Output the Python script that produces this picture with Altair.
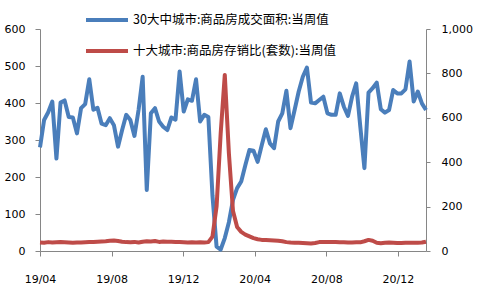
import altair as alt
import pandas as pd

# Weekly data, 95 points starting 2019-04-05
start_date = "2019-04-05"
n_weeks = 95

s_blue = "30大中城市:商品房成交面积:当周值"
s_red = "十大城市:商品房存销比(套数):当周值"

blue_vals = [
    280, 354, 375, 404, 250, 401, 407, 362, 361, 318,
    386, 397, 464, 382, 387, 344, 340, 359, 340, 282,
    327, 368, 354, 311, 381, 471, 165, 372, 386, 350,
    336, 327, 361, 355, 485, 377, 410, 406, 464, 350,
    368, 362, 150, 12, 4, 35, 78, 138, 170, 188,
    232, 273, 271, 241, 286, 329, 291, 278, 350, 372,
    433, 332, 381, 431, 471, 496, 401, 399, 408, 417,
    372, 368, 368, 426, 390, 365, 417, 453, 336, 224,
    428, 440, 455, 383, 374, 381, 435, 426, 426, 437,
    512, 404, 431, 399, 381,
]

red_vals = [
    38, 37, 40, 38, 39, 40, 39, 38, 37, 38,
    38, 39, 40, 41, 42, 43, 44, 46, 47, 45,
    42, 40, 39, 41, 38, 42, 44, 43, 45, 41,
    43, 42, 42, 41, 40, 39, 38, 39, 38, 39,
    38, 40, 65, 200, 530, 793, 440, 180, 108, 86,
    74, 66, 58, 53, 50, 49, 48, 47, 46, 44,
    40, 38, 37, 37, 36, 35, 34, 36, 40, 41,
    41, 41, 40, 39, 39, 38, 38, 39, 39, 44,
    50, 46, 37, 35, 37, 38, 37, 36, 36, 37,
    37, 37, 37, 38, 42,
]

left_ticks = [0, 100, 200, 300, 400, 500, 600]
right_ticks = [0, 200, 400, 600, 800, 1000]
x_tick_dates = [(2019, 4, 5), (2019, 8, 5), (2019, 12, 5), (2020, 4, 5), (2020, 8, 5), (2020, 12, 5)]

dates = pd.date_range(start_date, periods=n_weeks, freq="7D")
df = pd.concat([
    pd.DataFrame({"date": dates, "value": blue_vals, "series": s_blue}),
    pd.DataFrame({"date": dates, "value": red_vals, "series": s_red}),
])

BLUE = "#4A7EBB"
RED = "#BE4B48"
AXIS_GRAY = "#868686"

x_enc = alt.X(
    "date:T",
    scale=alt.Scale(
        domain=[alt.DateTime(year=2019, month=4, date=5),
                alt.DateTime(year=2021, month=1, date=22)],
        nice=False,
    ),
    axis=alt.Axis(
        values=[alt.DateTime(year=y, month=m, date=d) for (y, m, d) in x_tick_dates],
        format="%y/%m", title=None, grid=False, labelPadding=17,
        tickSize=5, domainColor=AXIS_GRAY, tickColor=AXIS_GRAY,
        labelFlush=False,
    ),
)

color_enc = alt.Color(
    "series:N",
    scale=alt.Scale(domain=[s_blue, s_red], range=[BLUE, RED]),
    legend=alt.Legend(
        title=None, orient="none", legendX=44, legendY=-32, direction="vertical",
        symbolType="stroke", symbolSize=1764, symbolStrokeWidth=4,
        labelFont="Noto Sans CJK SC", labelFontSize=12.5, labelColor="#000000",
        rowPadding=0, labelOffset=3, labelLimit=400,
    ),
)

blue_layer = alt.Chart(df).transform_filter(alt.datum.series == s_blue).mark_line(
    strokeWidth=4, strokeJoin="round"
).encode(
    x=x_enc,
    y=alt.Y("value:Q", scale=alt.Scale(domain=[0, 600], nice=False),
            axis=alt.Axis(orient="left", values=left_ticks, title=None, grid=False,
                          tickSize=5, labelPadding=10, domainColor=AXIS_GRAY,
                          tickColor=AXIS_GRAY, labelFlush=False)),
    color=color_enc,
)

red_layer = alt.Chart(df).transform_filter(alt.datum.series == s_red).mark_line(
    strokeWidth=4, strokeJoin="round"
).encode(
    x=x_enc,
    y=alt.Y("value:Q", scale=alt.Scale(domain=[0, 1000], nice=False),
            axis=alt.Axis(orient="right", values=right_ticks, format=",d", title=None,
                          grid=False, tickSize=4, labelPadding=11,
                          domainColor=AXIS_GRAY, tickColor=AXIS_GRAY, labelFlush=False)),
    color=color_enc,
)

chart = alt.layer(blue_layer, red_layer).resolve_scale(y="independent").properties(
    width=386, height=222,
    autosize=alt.AutoSizeParams(type="none"),
    padding={"left": 40, "top": 29, "right": 51, "bottom": 39},
).configure_view(stroke=None).configure_axis(
    labelFont="DejaVu Sans", labelFontSize=11, labelColor="#000000",
    domainWidth=1, tickWidth=1,
)

chart.save("out.html", embed_options={"renderer": "svg", "actions": False})
